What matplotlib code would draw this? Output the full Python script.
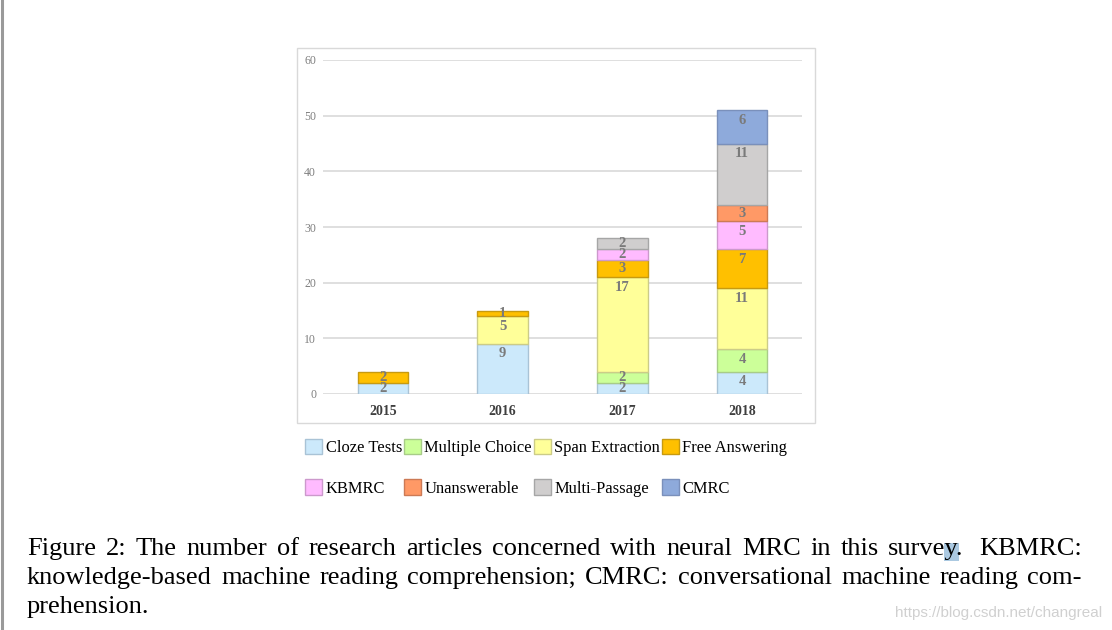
"""Stacked bar chart: number of neural MRC research articles per year, by task type."""

import matplotlib

matplotlib.use("Agg")
import matplotlib.pyplot as plt
import numpy as np
from matplotlib.lines import Line2D
from matplotlib.patches import Rectangle

W, H = 1112, 630
SERIF = ["Liberation Serif", "DejaVu Serif"]

years = ["2015", "2016", "2017", "2018"]
categories = [
    "Cloze Tests",
    "Multiple Choice",
    "Span Extraction",
    "Free Answering",
    "KBMRC",
    "Unanswerable",
    "Multi-Passage",
    "CMRC",
]
cloze = [2, 9, 2, 4]
multiple_choice = [0, 0, 2, 4]
span_extraction = [0, 5, 17, 11]
free_answering = [2, 1, 3, 7]
kbmrc = [0, 0, 2, 5]
unanswerable = [0, 0, 0, 3]
multi_passage = [0, 0, 2, 11]
cmrc = [0, 0, 0, 6]
series = [cloze, multiple_choice, span_extraction, free_answering,
          kbmrc, unanswerable, multi_passage, cmrc]

colors = ["#cce9fb", "#ccff99", "#ffff99", "#ffc000",
          "#ffbbff", "#ff9966", "#d0cece", "#8eaadb"]
edges = ["#a9c3d6", "#a8cc88", "#cccc88", "#c79a10",
         "#cc99cc", "#cc7a55", "#a6a6a6", "#7a90bb"]

caption = [
    "Figure 2: The number of research articles concerned with neural MRC in this survey.  KBMRC:",
    "knowledge-based machine reading comprehension; CMRC: conversational machine reading com-",
    "prehension.",
]


def fx(x):
    return x / W


def fy(y):
    return 1 - y / H


def main():
    fig = plt.figure(figsize=(W / 100, H / 100), dpi=100)
    fig.patch.set_facecolor("white")

    # chart frame
    fig.patches.append(Rectangle((fx(297), fy(423)), fx(815) - fx(297), fy(48) - fy(423),
                                 transform=fig.transFigure, fill=False,
                                 edgecolor="#d9d9d9", linewidth=1.0))
    # gray strip on the left edge of the screenshot
    fig.lines.append(Line2D([fx(1.5), fx(1.5)], [0, 1], transform=fig.transFigure,
                            color="#9a9a9a", linewidth=2.2))

    ax = fig.add_axes([fx(323), fy(394), fx(802) - fx(323), fy(60) - fy(394)])
    x = np.arange(len(years))
    bottom = np.zeros(len(years))
    px_per_unit = (394 - 60) / 60
    handles = []
    for vals, name, c, e in zip(series, categories, colors, edges):
        vals = np.array(vals, dtype=float)
        keep = vals > 0
        bars = ax.bar(x[keep], vals[keep], 0.42, bottom=bottom[keep], color=c,
                      edgecolor=e, linewidth=1.0, label=name, zorder=3)
        handles.append(bars)
        for xi, v, b in zip(x, vals, bottom):
            if v <= 0:
                continue
            top = b + v
            off = min(10 / px_per_unit, v / 2)
            ax.text(xi, top - off, f"{int(v)}", ha="center", va="center",
                    fontsize=10.5, fontweight="bold", color="#7a7a7a",
                    family=SERIF, zorder=4)
        bottom += vals

    ax.set_xlim(-0.5, 3.5)
    ax.set_ylim(0, 60)
    ax.set_yticks(range(0, 61, 10))
    ax.grid(axis="y", color="#d9d9d9", linewidth=1.2, zorder=0)
    for s in ax.spines.values():
        s.set_visible(False)
    ax.tick_params(length=0)
    ax.tick_params(axis="y", pad=5, labelsize=8.5, labelcolor="#7f7f7f")
    ax.set_yticklabels([str(v) for v in range(0, 61, 10)], family=SERIF)
    ax.set_xticks(x)
    ax.set_xticklabels(years, family=SERIF, fontweight="bold", fontsize=10,
                       color="#3f3f3f")
    ax.tick_params(axis="x", pad=8)

    # legend, two rows of four
    order = [0, 4, 1, 5, 2, 6, 3, 7]
    fig.legend([handles[i] for i in order], [categories[i] for i in order],
               ncol=4, loc="upper left", bbox_to_anchor=(fx(305), fy(439)),
               frameon=False, prop={"family": SERIF, "size": 11.9},
               handlelength=1.05, handleheight=1.05, handletextpad=0.2,
               columnspacing=0.1, labelspacing=1.4, borderpad=0, borderaxespad=0)

    # caption, justified like the LaTeX source
    renderer = fig.canvas.get_renderer()
    fig.patches.append(Rectangle((fx(944), fy(561)), fx(959) - fx(944), fy(543) - fy(561),
                                 transform=fig.transFigure, facecolor="#abc9e1",
                                 edgecolor="none", zorder=0))
    baselines = [555, 584, 613]
    for i, (line, base) in enumerate(zip(caption, baselines)):
        if i == len(caption) - 1:
            fig.text(fx(27), fy(base), line, family=SERIF, fontsize=19,
                     va="baseline", ha="left")
            continue
        words = line.replace("  ", " \u0000").split(" ")
        weights = [1.6 if w.startswith("\u0000") else 1.0 for w in words[1:]]
        words = [w.replace("\u0000", "") for w in words]
        texts = [fig.text(0, fy(base), w, family=SERIF, fontsize=19,
                          va="baseline", ha="left", zorder=2) for w in words]
        widths = [t.get_window_extent(renderer).width for t in texts]
        gap = (1082 - 27 - sum(widths)) / sum(weights)
        xpos = 27.0
        for j, t in enumerate(texts):
            t.set_x(fx(xpos))
            if j < len(weights):
                xpos += widths[j] + gap * weights[j]

    fig.text(fx(1102), fy(617), "https://blog.csdn.net/changreal", ha="right",
             va="baseline", fontsize=11, color="#d0d0d0",
             family=["Liberation Sans", "DejaVu Sans"])

    fig.savefig("out.png", dpi=100)


if __name__ == "__main__":
    main()
